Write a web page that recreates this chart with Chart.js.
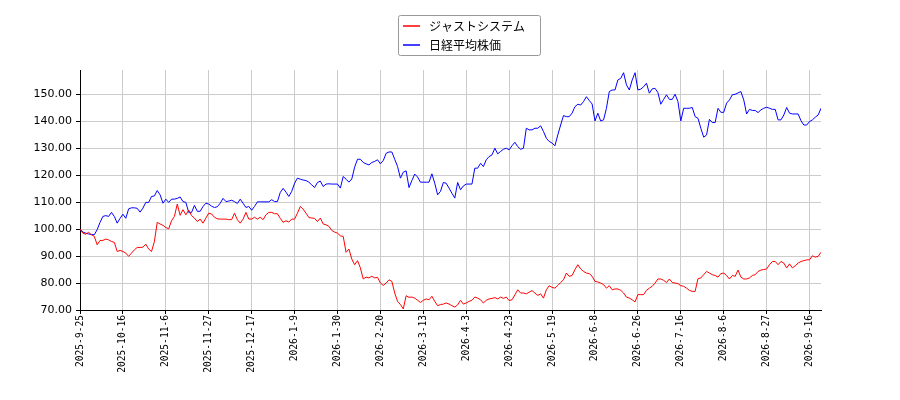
<!DOCTYPE html>
<html>
<head>
<meta charset="utf-8">
<script src="https://cdn.jsdelivr.net/npm/chart.js@4/dist/chart.umd.min.js"></script>
<style>
  html, body { margin: 0; padding: 0; background: #fff; }
  #chart { display: block; }
</style>
</head>
<body>
<canvas id="chart" width="900" height="400"></canvas>
<script>
// date labels shown on the x axis, one every 15 trading days
var tickLabels = ['2025-9-25', '2025-10-16', '2025-11-6', '2025-11-27', '2025-12-17',
    '2026-1-9', '2026-1-30', '2026-2-20', '2026-3-13', '2026-4-3', '2026-4-23',
    '2026-5-19', '2026-6-8', '2026-6-26', '2026-7-16', '2026-8-6', '2026-8-27', '2026-9-16'];
var tickEvery = 15;

var seriesNames = ['ジャストシステム', '日経平均株価'];

// ジャストシステム (red), start = 100
var justsystem = [
    100, 98.5, 98.1, 98.8, 97.9, 97.3, 94.2, 95.8, 95.8, 96.3,
    96, 95.4, 95.1, 91.7, 92.1, 91.7, 91.1, 89.9, 91.1, 92.3,
    93.2, 93.2, 93.3, 94.4, 92.6, 91.7, 95.4, 102.5, 101.9, 101.4,
    100.6, 100.1, 103.1, 104.7, 109.3, 105.1, 107.2, 105.3, 107, 105,
    104.1, 102.8, 103.7, 102.2, 104.1, 105.9, 105.6, 104.4, 103.8, 103.7,
    103.7, 103.7, 103.5, 103.5, 105.9, 103.5, 102.2, 103.7, 106.2, 103.7,
    103.7, 104.4, 103.7, 104.4, 103.5, 105.3, 106.2, 106.2, 105.7, 105.7,
    104, 102.5, 103.1, 102.6, 103.7, 103.7, 105.9, 108.4, 107.4, 105.9,
    104.3, 104.1, 104, 102.8, 104.1, 101.9, 101.6, 101,
    99.5, 98.9, 98.5, 97.5, 97.3, 91.4, 92.6, 88.9, 86.8, 88.3,
    85.6, 81.5, 82.2, 81.9, 82.5, 81.9, 82.1, 80, 79.1, 80,
    81.2, 80.6, 76.3, 73.2, 72, 70.4, 75.3, 74.7, 74.8, 74.4,
    73.6, 72.8, 73.6, 74.1, 73.8, 75.1, 73.2, 71.6, 72, 72.2,
    72.6, 72.2, 71.6, 71.1, 71.9, 73.6, 72.2, 72.6, 73.2, 73.6,
    74.8, 74.4, 73.8, 72.6, 73.6, 74.1, 74.3, 74.6, 74.1, 74.8,
    74.3, 74.8, 73.5, 73.8, 75.6, 77.5, 76.3, 76.3, 76, 76.6,
    77.2, 76.3, 75.4, 76, 74.4, 77.5, 79, 78.4, 78.1, 79.1,
    80.2, 81.2, 83.7, 82.5,
    82.8, 85, 86.8, 85.2, 84.3, 83.7, 83.5, 82.5, 80.6, 80.4,
    80, 79.4, 78.1, 79, 77.5, 77.8, 77.8, 77.3, 76.3, 74.8,
    74.4, 73.8, 73, 75.7, 75.7, 75.7, 77.3, 78.1, 78.8, 80,
    81.5, 81.5, 81, 80.2, 81.5, 80.2, 80, 79.8, 79, 78.8,
    78.1, 77.3, 76.9, 76.9, 81.6, 81.9, 83.1, 84.3, 83.7, 83.1,
    82.8, 82.2, 83.5, 83.7, 82.8, 81.5, 82.8, 82.5, 84.8, 82.2,
    81.5, 81.5, 81.9, 82.8, 83.1, 84.3, 84.8, 85, 85.2, 86.8,
    88, 88, 86.8, 88, 87.4, 85.6, 87.1, 85.6, 86.4, 87.4,
    88, 88.3, 88.6, 88.6, 90.1, 89.6, 89.9, 91.4
];

// 日経平均株価 (blue), start = 100
var nikkei = [
    100, 98.9, 98.5, 98.2, 98.0, 97.9, 99.8, 102.5, 104.7, 105,
    104.7, 106.2, 104.7, 102.2, 104, 105.5, 104, 107.5, 107.9, 107.9,
    107.7, 106.3, 107.8, 109.9, 109.9, 112.1, 112.3, 114.3, 112.7, 109.6,
    111.1, 109.9, 111.1, 111.1, 111.4, 111.9, 110.2, 109.9, 106.2, 106.2,
    108.8, 106.6, 106.6, 108.4, 109.6, 109.3, 108.5, 108, 108.3, 109.6,
    111.4, 110.2, 110.4, 110.7, 110.2, 109.5, 111.1, 109.6, 108, 108.4,
    107, 108.4, 110.1, 110.1, 110.1, 110.1, 110.1, 110.9, 110.2, 110.2,
    113.6, 115.1, 113.7, 112.1, 114, 117, 118.9, 118.5, 118.2, 118,
    117.4, 116.4, 115.4, 117.3, 117.8, 115.8, 116.7, 116.8,
    116.7, 116.7, 116.7, 115.2, 119.5, 118.5, 117.4, 118.6, 123, 125.9,
    125.9, 124.7, 124.2, 123.8, 124.7, 125.1, 125.7, 124.2, 125.4, 128.1,
    128.6, 128.6, 125.9, 123.2, 118.9, 121.1, 121.6, 115.4, 118, 120.4,
    119.3, 117.4, 117.4, 117.4, 117.4, 120.5, 117, 112.7, 114, 117.3,
    117, 115.2, 113.3, 111.5, 117.3, 114.6, 116, 116.7, 116.7, 116.7,
    122.6, 122.6, 124.4, 123.2, 125.7, 126.9, 127.5, 130, 127.9, 128.8,
    129.6, 130, 129.4, 130.9, 132.2, 130.6, 129.6, 130, 137.4, 136.8,
    136.8, 137.4, 137.4, 138.3, 136.2, 133.7, 132.5, 131.9, 130.9, 134.9,
    138.6, 142.1, 141.7, 141.7,
    143, 145.4, 146.3, 146, 147.3, 149.1, 147.7, 146.4, 140.1, 143,
    140.1, 140.5, 144.8, 151, 151.6, 151.6, 155.3, 155.9, 158, 153.5,
    151.6, 155.3, 158, 151.6, 151.9, 152.8, 154.1, 150.4, 152, 152.2,
    150.6, 146.3, 148.1, 149.8, 148.1, 148.1, 150, 147.3, 140.1, 144.8,
    144.8, 144.8, 145.1, 141.7, 141.1, 137.4, 134.1, 134.9, 140.7, 139.5,
    139.5, 144.8, 143.3, 143.3, 146.7, 147.9, 149.8, 150, 150.5, 151,
    147.9, 142.7, 144.4, 144, 144, 143.2, 144.2, 144.8, 145.2, 144.8,
    144.4, 144.4, 140.5, 140.5, 142.3, 145.1, 143, 142.7, 142.7, 142.7,
    140.2, 138.6, 138.6, 139.9, 140.5, 141.5, 142.3, 144.8
];

var yMin = 70, yMax = 159, yStep = 10;

// matplotlib-like framed legend, two rows, top centre
var boxLegend = {
    id: 'boxLegend',
    afterDraw: function(chart) {
        var ctx = chart.ctx;
        var x = 398.5, y = 15.5, w = 142, h = 40;
        ctx.save();
        ctx.fillStyle = 'rgba(255,255,255,0.8)';
        ctx.strokeStyle = '#999';
        ctx.lineWidth = 1;
        ctx.beginPath();
        ctx.roundRect(x, y, w, h, 2);
        ctx.fill();
        ctx.stroke();
        ctx.font = '12px "Noto Sans CJK JP", "DejaVu Sans", sans-serif';
        ctx.textBaseline = 'middle';
        chart.data.datasets.forEach(function(ds, i) {
            var cy = 26 + i * 19;
            ctx.strokeStyle = ds.borderColor;
            ctx.lineWidth = 1.5;
            ctx.beginPath();
            ctx.moveTo(403, cy);
            ctx.lineTo(420, cy);
            ctx.stroke();
            ctx.fillStyle = '#000';
            ctx.fillText(ds.label, 429, cy);
        });
        ctx.restore();
    }
};

Chart.defaults.font.family = '"DejaVu Sans", sans-serif';
Chart.defaults.color = '#000';

var ctx = document.getElementById('chart').getContext('2d');
var myChart = new Chart(ctx, {
    type: 'line',
    data: {
        labels: nikkei.map(function(_, i) { return i; }),
        datasets: [{
            label: seriesNames[0],
            data: justsystem,
            borderColor: '#ff0000',
            borderWidth: 1,
            pointRadius: 0,
            tension: 0,
            fill: false
        }, {
            label: seriesNames[1],
            data: nikkei,
            borderColor: '#0000ff',
            borderWidth: 1,
            pointRadius: 0,
            tension: 0,
            fill: false
        }]
    },
    options: {
        responsive: false,
        animation: false,
        layout: { padding: { top: 70, right: 79, left: 0, bottom: 0 } },
        plugins: {
            legend: { display: false },
            tooltip: { enabled: false }
        },
        scales: {
            x: {
                type: 'linear',
                min: 0,
                max: nikkei.length - 1,
                afterBuildTicks: function(scale) {
                    scale.ticks = tickLabels.map(function(_, i) { return { value: i * tickEvery }; });
                },
                afterFit: function(scale) { scale.height = 90; },
                grid: { color: '#cccccc', lineWidth: 1, tickColor: '#000', tickLength: 4 },
                border: { color: '#000', width: 1 },
                ticks: {
                    autoSkip: false,
                    minRotation: 90,
                    maxRotation: 90,
                    padding: 1,
                    font: { family: '"DejaVu Sans Mono", monospace', size: 9.6 },
                    callback: function(value) { return tickLabels[Math.round(value / tickEvery)]; }
                }
            },
            y: {
                min: yMin,
                max: yMax,
                afterFit: function(scale) { scale.width = 80; },
                grid: { color: '#cccccc', lineWidth: 1, tickColor: '#000', tickLength: 4 },
                border: { color: '#000', width: 1 },
                ticks: {
                    stepSize: yStep,
                    includeBounds: false,
                    padding: 4,
                    font: { size: 11 },
                    callback: function(value) { return value.toFixed(2); }
                }
            }
        }
    },
    plugins: [boxLegend]
});
</script>
</body>
</html>
